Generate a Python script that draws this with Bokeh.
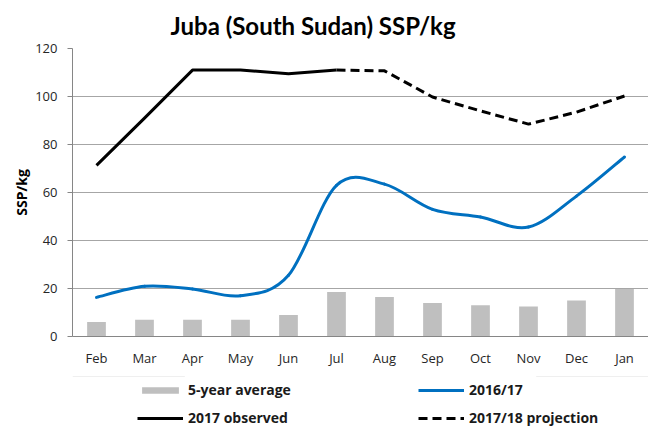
from bokeh.plotting import figure
from bokeh.layouts import column
from bokeh.models import Range1d, FixedTicker, Legend, LegendItem, ColumnDataSource
from bokeh.embed import file_html
from bokeh.resources import INLINE

months = ["Feb", "Mar", "Apr", "May", "Jun", "Jul", "Aug", "Sep", "Oct", "Nov", "Dec", "Jan"]
avg5 = [6.0, 7.0, 7.0, 7.0, 9.0, 18.5, 16.5, 14.0, 13.0, 12.5, 15.0, 19.8]
y2016 = [16.3, 20.9, 19.8, 17.0, 25.5, 63.0, 63.5, 53.0, 49.8, 45.6, 58.5, 74.8]
obs2017 = [71.3, 91.0, 111.0, 111.0, 109.5, 111.0]
proj = [111.0, 110.7, 99.8, 94.0, 88.5, 93.5, 100.2]

xs = list(range(len(months)))
x_obs = xs[:len(obs2017)]
x_proj = xs[len(obs2017) - 1:]

# smooth (Catmull-Rom style) bezier segments for the 2016/17 line
n = len(y2016)
def P(i):
    i = max(0, min(n - 1, i))
    return xs[i], y2016[i]
seg = dict(x0=[], y0=[], x1=[], y1=[], cx0=[], cy0=[], cx1=[], cy1=[])
for i in range(n - 1):
    xa, ya = P(i - 1); xb, yb = P(i); xc, yc = P(i + 1); xd, yd = P(i + 2)
    seg["x0"].append(xb); seg["y0"].append(yb)
    seg["x1"].append(xc); seg["y1"].append(yc)
    seg["cx0"].append(xb + (xc - xa) / 6); seg["cy0"].append(yb + (yc - ya) / 6)
    seg["cx1"].append(xc - (xd - xb) / 6); seg["cy1"].append(yc - (yd - yb) / 6)

FONT = "Open Sans"
BLUE = "#0070C0"
GREY = "#BFBFBF"

p = figure(width=648, height=376, output_backend="svg", toolbar_location=None,
           x_range=Range1d(-0.5, len(months) - 0.5), y_range=Range1d(0, 120),
           min_border_left=72, min_border_right=0, min_border_top=48, min_border_bottom=40)
p.outline_line_color = None

p.title.text = "Juba (South Sudan) SSP/kg"
p.title.text_font = "Lato"
p.title.text_font_size = "24px"
p.title.text_font_style = "bold"
p.title.text_color = "#000000"
p.title.align = "left"
p.title.offset = 98
p.title.standoff = 17

p.vbar(x=xs, top=avg5, width=0.39, fill_color=GREY, line_color=None)
p.bezier(source=ColumnDataSource(seg), x0="x0", y0="y0", x1="x1", y1="y1",
         cx0="cx0", cy0="cy0", cx1="cx1", cy1="cy1",
         line_color=BLUE, line_width=3, line_cap="round")
p.line(x_obs, obs2017, line_color="#000000", line_width=3, line_join="round")
p.line(x_proj, proj, line_color="#000000", line_width=3, line_dash="9 5")

p.xgrid.grid_line_color = None
p.ygrid.grid_line_color = "#A6A6A6"
p.ygrid.grid_line_width = 1

p.yaxis.ticker = FixedTicker(ticks=[0, 20, 40, 60, 80, 100, 120])
p.yaxis.axis_line_color = "#868686"
p.yaxis.major_tick_line_color = "#868686"
p.yaxis.major_tick_out = 5
p.yaxis.major_tick_in = 0
p.yaxis.minor_tick_line_color = None
p.yaxis.major_label_standoff = 10
p.yaxis.major_label_text_font = FONT
p.yaxis.major_label_text_font_size = "13px"
p.yaxis.major_label_text_color = "#262626"
p.yaxis.axis_label = "SSP/kg"
p.yaxis.axis_label_text_font = FONT
p.yaxis.axis_label_text_font_style = "bold"
p.yaxis.axis_label_text_font_size = "14px"
p.yaxis.axis_label_text_color = "#000000"
p.yaxis.axis_label_standoff = 1

p.xaxis.ticker = FixedTicker(ticks=xs)
p.xaxis.major_label_overrides = {i: m for i, m in enumerate(months)}
p.xaxis.axis_line_color = "#868686"
p.xaxis.major_tick_line_color = None
p.xaxis.minor_tick_line_color = None
p.xaxis.major_label_standoff = 6
p.xaxis.major_label_text_font = FONT
p.xaxis.major_label_text_font_size = "13px"
p.xaxis.major_label_text_color = "#262626"

# legend strip below the chart (its own glyph copies lie outside its view)
q = figure(width=648, height=50, output_backend="svg", toolbar_location=None,
           x_axis_type=None, y_axis_type=None, min_border=0,
           x_range=Range1d(0, 1), y_range=Range1d(-300, -200))
q.outline_line_color = None
q.grid.grid_line_color = None
r_bar = q.vbar(x=xs, top=avg5, width=0.39, fill_color=GREY, line_color=None)
r_blue = q.line(xs, y2016, line_color=BLUE, line_width=3)
r_obs = q.line(x_obs, obs2017, line_color="#000000", line_width=3)
r_prj = q.line(x_proj, proj, line_color="#000000", line_width=3, line_dash="9 5")

def add_leg(label, rend, loc):
    lg = Legend(items=[LegendItem(label=label, renderers=[rend])], location=loc,
                glyph_width=46, glyph_height=8, label_height=8, label_standoff=5,
                padding=0, margin=0, spacing=0, border_line_color=None,
                background_fill_alpha=0, label_text_font=FONT,
                label_text_font_style="bold",
                label_text_font_size="14px", label_text_color="#1a1a1a")
    q.add_layout(lg, "center")

add_leg("5-year average", r_bar, (65, 27))
add_leg("2016/17", r_blue, (346, 27))
add_leg("2017 observed", r_obs, (65, -1))
add_leg("2017/18 projection", r_prj, (346, -1))

layout = column(p, q, spacing=0)
open("out.html", "w").write(file_html(layout, INLINE))
